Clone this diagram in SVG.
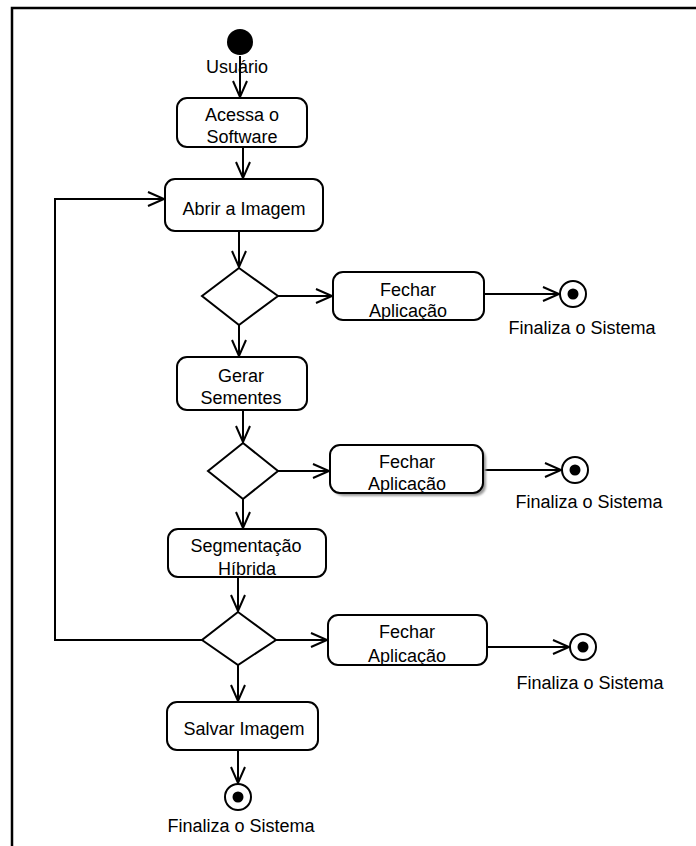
<svg xmlns="http://www.w3.org/2000/svg" width="696" height="846" viewBox="0 0 696 846">
  <style>
    .box { fill: #ffffff; stroke: #000000; stroke-width: 2; }
    .dec { fill: #ffffff; stroke: #000000; stroke-width: 2; stroke-linejoin: miter; }
    .edge { fill: none; stroke: #000000; stroke-width: 2; }
    .lbl { font-family: "Liberation Sans", Arial, sans-serif; font-size: 18px; fill: #000000; text-anchor: middle; }
    .frame { fill: none; stroke: #000000; stroke-width: 2.5; }
  </style>
  <defs>
    <marker id="open" markerUnits="userSpaceOnUse" markerWidth="24" markerHeight="20" viewBox="-18 -10 20 20" refX="0" refY="0" orient="auto">
      <path d="M-16,-7 L0,0 L-16,7" fill="none" stroke="#000000" stroke-width="2"/>
    </marker>
    <filter id="soft" x="-10%" y="-10%" width="120%" height="130%">
      <feGaussianBlur stdDeviation="1.2"/>
    </filter>
  </defs>

  <rect width="696" height="846" fill="#ffffff"/>
  <path class="frame" d="M12,846 L12,8 L696,8"/>

  <g id="connectors">
    <path class="edge" d="M240,56 L240,97" marker-end="url(#open)"/>
    <path class="edge" d="M243,147 L243,178" marker-end="url(#open)"/>
    <path class="edge" d="M239,231 L239,267" marker-end="url(#open)"/>
    <path class="edge" d="M278,296 L332,296" marker-end="url(#open)"/>
    <path class="edge" d="M484,294 L559,294" marker-end="url(#open)"/>
    <path class="edge" d="M239,325 L239,356" marker-end="url(#open)"/>
    <path class="edge" d="M243,410 L243,442" marker-end="url(#open)"/>
    <path class="edge" d="M278,471 L329,471" marker-end="url(#open)"/>
    <path class="edge" d="M483,470 L561,470" marker-end="url(#open)"/>
    <path class="edge" d="M243,499 L243,528" marker-end="url(#open)"/>
    <path class="edge" d="M238,577 L238,611" marker-end="url(#open)"/>
    <path class="edge" d="M276,640 L327,640" marker-end="url(#open)"/>
    <path class="edge" d="M487,647 L569,647" marker-end="url(#open)"/>
    <path class="edge" d="M202,640 L55,640 L55,199 L164,199" marker-end="url(#open)"/>
    <path class="edge" d="M238,665 L238,701" marker-end="url(#open)"/>
    <path class="edge" d="M238,750 L238,783" marker-end="url(#open)"/>
  </g>

  <g id="inicio">
    <circle cx="240" cy="42" r="13" fill="#000000"/>
    <text class="lbl" x="237" y="73">Usuário</text>
  </g>

  <g id="acessa">
    <rect class="box" x="177" y="98" width="130" height="49" rx="10"/>
    <text class="lbl" x="242" y="121">Acessa o</text>
    <text class="lbl" x="242" y="143">Software</text>
  </g>

  <g id="abrir">
    <rect class="box" x="165" y="179" width="158" height="52" rx="10"/>
    <text class="lbl" x="244" y="215">Abrir a Imagem</text>
  </g>

  <g id="decisao1">
    <polygon class="dec" points="239,268 278,296 239,325 202,296"/>
  </g>

  <g id="fechar1">
    <rect class="box" x="333" y="272" width="151" height="48" rx="10"/>
    <text class="lbl" x="408" y="296">Fechar</text>
    <text class="lbl" x="408" y="317">Aplicação</text>
  </g>

  <g id="fim1">
    <circle cx="573" cy="294" r="13" fill="#ffffff" stroke="#000000" stroke-width="2"/>
    <circle cx="573" cy="294" r="5.5" fill="#000000"/>
    <text class="lbl" x="582" y="334">Finaliza o Sistema</text>
  </g>

  <g id="gerar">
    <rect class="box" x="177" y="357" width="130" height="53" rx="10"/>
    <text class="lbl" x="241" y="382">Gerar</text>
    <text class="lbl" x="241" y="404">Sementes</text>
  </g>

  <g id="decisao2">
    <polygon class="dec" points="243,443 278,471 243,499 208,471"/>
  </g>

  <g id="fechar2">
    <rect x="333" y="448" width="153" height="48" rx="10" fill="#9a9a9a" filter="url(#soft)"/>
    <rect class="box" x="330" y="445" width="153" height="48" rx="10"/>
    <text class="lbl" x="407" y="468">Fechar</text>
    <text class="lbl" x="407" y="490">Aplicação</text>
  </g>

  <g id="fim2">
    <circle cx="575" cy="470" r="13" fill="#ffffff" stroke="#000000" stroke-width="2"/>
    <circle cx="575" cy="470" r="5.5" fill="#000000"/>
    <text class="lbl" x="589" y="508">Finaliza o Sistema</text>
  </g>

  <g id="segmentacao">
    <rect class="box" x="168" y="529" width="158" height="48" rx="10"/>
    <text class="lbl" x="246" y="552">Segmentação</text>
    <text class="lbl" x="247" y="575">Híbrida</text>
  </g>

  <g id="decisao3">
    <polygon class="dec" points="238,612 276,640 238,665 202,640"/>
  </g>

  <g id="fechar3">
    <rect class="box" x="328" y="615" width="159" height="50" rx="10"/>
    <text class="lbl" x="407" y="638">Fechar</text>
    <text class="lbl" x="407" y="662">Aplicação</text>
  </g>

  <g id="fim3">
    <circle cx="583" cy="647" r="13" fill="#ffffff" stroke="#000000" stroke-width="2"/>
    <circle cx="583" cy="647" r="5.5" fill="#000000"/>
    <text class="lbl" x="590" y="689">Finaliza o Sistema</text>
  </g>

  <g id="salvar">
    <rect class="box" x="167" y="702" width="151" height="48" rx="10"/>
    <text class="lbl" x="244" y="735">Salvar Imagem</text>
  </g>

  <g id="fim4">
    <circle cx="238" cy="797" r="13" fill="#ffffff" stroke="#000000" stroke-width="2"/>
    <circle cx="238" cy="797" r="5.5" fill="#000000"/>
    <text class="lbl" x="241" y="832">Finaliza o Sistema</text>
  </g>
</svg>
